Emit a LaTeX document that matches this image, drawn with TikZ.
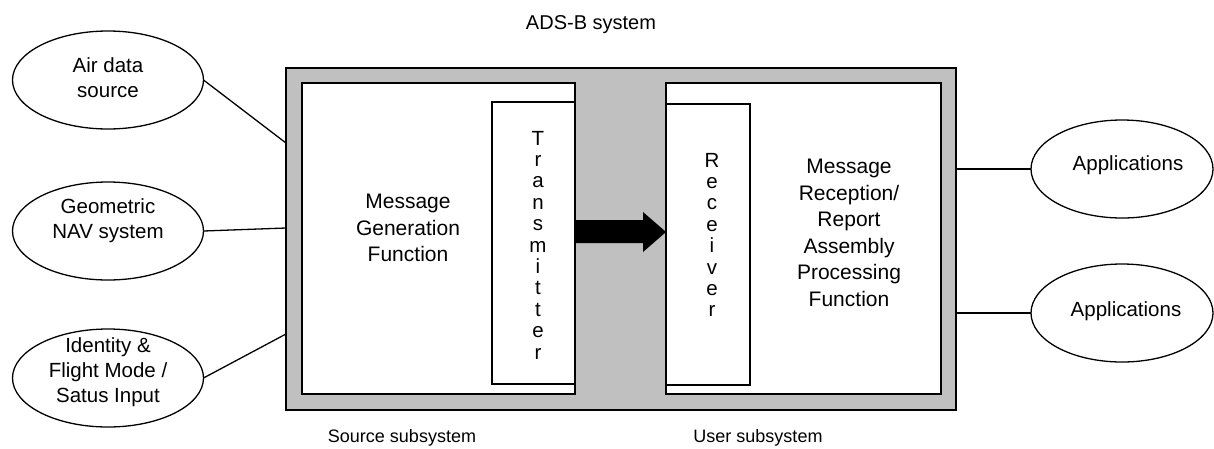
\documentclass[tikz,border=0pt]{standalone}
\usepackage{fontspec}
\setmainfont{Liberation Sans}
\usetikzlibrary{shapes.geometric}
\definecolor{boxgray}{RGB}{192,192,192}
\begin{document}
\begin{tikzpicture}[x=1pt,y=-1pt,
  every node/.style={inner sep=0pt,outer sep=0pt},
  txt/.style={font=\fontsize{20.5}{25}\selectfont,align=center},
  bigtxt/.style={font=\fontsize{21}{26.5}\selectfont,align=center},
  vtxt/.style={font=\fontsize{20.5}{21.4}\selectfont,align=center},
  captxt/.style={font=\fontsize{18}{22}\selectfont},
  oval/.style={ellipse,draw,line width=1.3pt,minimum width=191pt,minimum height=98pt,fill=white},
  boxline/.style={draw,line width=1.3pt},
  conn/.style={line width=1.3pt}]
\useasboundingbox (0,0) rectangle (1214,448);
% outer system box
\node[boxline,fill=boxgray,anchor=north west,minimum width=670pt,minimum height=342pt] (sys) at (286,68) {};
% inner boxes
\node[boxline,fill=white,anchor=north west,minimum width=273pt,minimum height=311pt] (src) at (302,83) {};
\node[boxline,fill=white,anchor=north west,minimum width=83pt,minimum height=282pt] (tx) at (492,102) {};
\node[boxline,fill=white,anchor=north west,minimum width=275pt,minimum height=311pt] (usr) at (666,83) {};
\node[boxline,fill=white,anchor=north west,minimum width=84pt,minimum height=281pt] (rx) at (666,104) {};
% texts inside
\node[bigtxt] (gen) at (408,228) {Message\\Generation\\Function};
\node[vtxt] (txt) at (538,245) {T\\r\\a\\n\\s\\m\\i\\t\\t\\e\\r};
\node[vtxt] (rxt) at (712,235) {R\\e\\c\\e\\i\\v\\e\\r};
\node[bigtxt] (rep) at (849,233) {Message\\Reception/\\Report\\Assembly\\Processing\\Function};
% fat arrow
\fill (tx.east |- 0,220) -- (643,220) -- (643,212) -- (rx.west |- 0,232) -- (643,252) -- (643,243) -- (tx.east |- 0,243) -- cycle;
% ellipses
\node[oval] (air) at (108,80) {};
\node[txt] at (108,78) {Air data\\source};
\node[oval] (geo) at (108,231) {};
\node[txt] at (108,221) {Geometric\\NAV system};
\node[oval] (ident) at (108,378) {};
\node[txt] at (108,372) {Identity \&\\Flight Mode /\\Satus Input};
\node[oval,minimum width=182pt] (app1) at (1122,169) {};
\node[txt] at (1128,165) {Applications};
\node[oval,minimum width=182pt] (app2) at (1122,313) {};
\node[txt] at (1126,311) {Applications};
% connector end points on the system box
\coordinate (pa) at (286,143);
\coordinate (pg) at (286,228);
\coordinate (pi) at (286,334);
\coordinate (q1) at (956,169);
\coordinate (q2) at (956,313);
\draw[conn] (air.east) -- (pa);
\draw[conn] (geo.east) -- (pg);
\draw[conn] (ident.east) -- (pi);
\draw[conn] (q1) -- (app1.west);
\draw[conn] (q2) -- (app2.west);
% labels
\node[txt,font=\fontsize{20}{24}\selectfont] (title) at (591,25) {ADS-B system};
\node[captxt] (srcl) at (402,438) {Source subsystem};
\node[captxt] (usrl) at (758,438) {User subsystem};
\end{tikzpicture}
\end{document}
